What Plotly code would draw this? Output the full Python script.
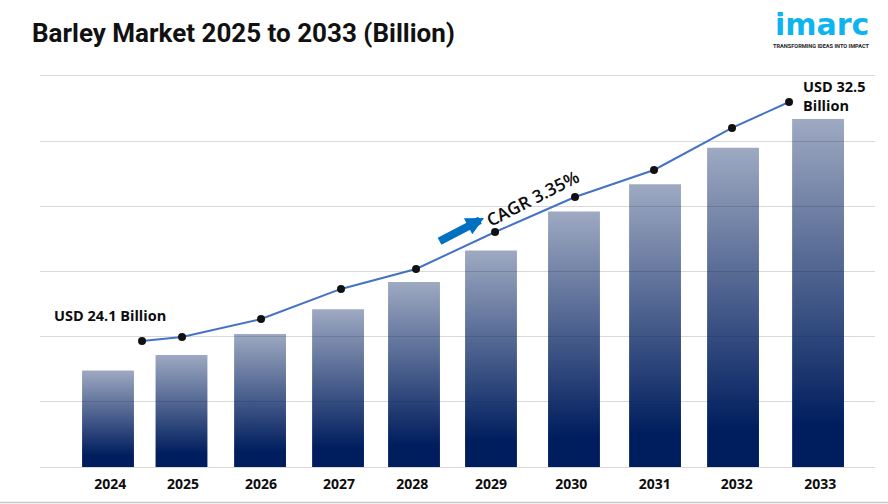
import plotly.graph_objects as go

years = ["2024", "2025", "2026", "2027", "2028", "2029", "2030", "2031", "2032", "2033"]
bar_x = [2024.0, 2024.942, 2025.949, 2026.949, 2027.923, 2028.910, 2029.974, 2031.013, 2032.013, 2033.103]
bar_values = [7.4, 8.6, 10.2, 12.1, 14.2, 16.6, 19.6, 21.7, 24.5, 26.7]
tick_x = [2024.03, 2024.96, 2025.96, 2026.96, 2027.9, 2028.91, 2029.94, 2031.01, 2032.06, 2033.13]
line_x = [2024.436, 2024.949, 2025.962, 2026.987, 2027.949, 2028.962, 2029.987, 2031.0, 2032.0, 2032.731]
line_values = [24.1, 24.24, 24.87, 25.93, 26.63, 27.93, 29.16, 30.11, 31.59, 32.5]

BAR_WIDTH = 0.665
TEXT = "#0d0d0d"
LABEL_FONT = "Open Sans"

fig = go.Figure()
for cx, v in zip(bar_x, bar_values):
    x0, x1 = cx - BAR_WIDTH / 2, cx + BAR_WIDTH / 2
    fig.add_trace(go.Scatter(
        x=[x0, x1, x1, x0, x0], y=[0, 0, v, v, 0],
        mode="none", fill="toself", showlegend=False, hoverinfo="skip",
        fillgradient=dict(type="vertical",
                          colorscale=[[0, "rgba(0,30,94,1)"], [0.12, "rgba(0,30,94,1)"], [1, "rgba(0,30,94,0.38)"]]),
    ))

fig.add_trace(go.Scatter(
    x=line_x, y=line_values, yaxis="y2", mode="lines+markers", showlegend=False,
    line=dict(color="#4472c4", width=2),
    marker=dict(color="#111111", size=8),
))

fig.update_layout(
    width=888, height=504, autosize=False,
    margin=dict(l=40, r=13, t=74, b=37),
    paper_bgcolor="white", plot_bgcolor="white",
    xaxis=dict(range=[2023.128, 2033.833], tickvals=tick_x, ticktext=years, showgrid=False,
               zeroline=False, ticks="outside", ticklen=4, tickcolor="rgba(255,255,255,0)",
               tickfont=dict(family=LABEL_FONT, size=14, color=TEXT, weight=700)),
    yaxis=dict(range=[0, 30.15], tick0=0, dtick=5, showticklabels=False, gridcolor="#d9d9d9", gridwidth=1,
               zeroline=True, zerolinecolor="#d9d9d9", zerolinewidth=1, ticks=""),
    yaxis2=dict(range=[19.67, 33.484], overlaying="y", visible=False),
    annotations=[
        dict(xref="paper", yref="paper", x=-0.0120, y=1.1043, xanchor="left", yanchor="middle", showarrow=False,
             text="<b>Barley Market 2025 to 2033 (Billion)</b>",
             font=dict(family="Roboto", size=26, color="#111111")),
        dict(xref="x", yref="y2", x=line_x[0], y=line_values[0], xanchor="center", yanchor="middle",
             showarrow=False, xshift=-32, yshift=25, text="<b>USD 24.1 Billion</b>",
             font=dict(family=LABEL_FONT, size=14.5, color=TEXT)),
        dict(xref="x", yref="y2", x=line_x[-1], y=line_values[-1], xanchor="left", yanchor="middle",
             showarrow=False, xshift=12, yshift=6, align="left", text="<b>USD 32.5<br>Billion</b>",
             font=dict(family=LABEL_FONT, size=14.5, color=TEXT)),
        dict(xref="x", yref="y2", x=line_x[5], y=line_values[5], xanchor="center", yanchor="middle",
             showarrow=False, xshift=37, yshift=34, textangle=-27,
             text="CAGR 3.35%",
             font=dict(family=LABEL_FONT, size=17.5, color=TEXT, weight=600)),
        dict(xref="x", yref="y2", x=line_x[5], y=line_values[5], axref="pixel", ayref="pixel",
             ax=-46, ay=24, xshift=-11, yshift=14, showarrow=True, arrowhead=2, arrowsize=0.45,
             arrowwidth=8, arrowcolor="#0070c0", text=""),
        dict(xref="paper", yref="paper", x=0.9365, y=1.1247, xanchor="center", yanchor="middle", showarrow=False,
             text="<b>imarc</b>", font=dict(family="DejaVu Sans", size=30, color="#0db4f0")),
        dict(xref="paper", yref="paper", x=0.9365, y=1.0712, xanchor="center", yanchor="middle", showarrow=False,
             text="<b>TRANSFORMING IDEAS INTO IMPACT</b>", font=dict(family="Roboto", size=5.6, color="#222222")),
    ],
    shapes=[dict(type="line", xref="paper", yref="paper", x0=-0.05, x1=1.02, y0=-0.0903, y1=-0.0903,
                 line=dict(color="#c8c8c8", width=1.5))],
)

fig.write_html("out.html", config={"displayModeBar": False}, post_script="document.body.style.margin='0';")
